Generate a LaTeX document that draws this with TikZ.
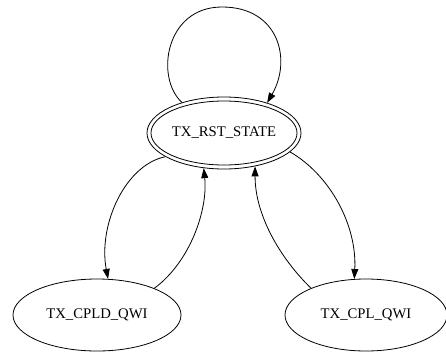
\documentclass[tikz,border=0pt]{standalone}
\usepackage{fontspec}
\setmainfont{Liberation Serif}
\usetikzlibrary{shapes.geometric,arrows.meta}

\tikzset{
  state/.style={ellipse, draw, line width=0.8pt, inner sep=0pt},
  edge/.style={line width=0.8pt, -{Triangle[length=10pt,width=7pt]}},
  statetext/.style={font=\fontsize{14.7}{17}\selectfont}
}

\begin{document}
\begin{tikzpicture}[x=1pt,y=-1pt]
  \useasboundingbox (0,0) rectangle (446,351);

  % reset state: double ellipse
  \node[state, minimum width=146pt, minimum height=64pt] (rstin) at (224,133) {};
  \node[state, minimum width=154pt, minimum height=72pt,
        label={[statetext]center:TX\_RST\_STATE}] (rst) at (224,133) {};

  % the two other states
  \node[state, minimum width=168pt, minimum height=72pt,
        label={[statetext]center:TX\_CPLD\_QWI}] (cpld) at (97,315) {};
  \node[state, minimum width=162pt, minimum height=72pt,
        label={[statetext]center:TX\_CPL\_QWI}] (cpl) at (366,315) {};

  % self loop on the reset state
  \draw[edge] (rst.144) .. controls (155,78) and (165,7) .. (222,7)
                        .. controls (279,7) and (292,60) .. (rst.35);

  % reset <-> TX_CPLD_QWI
  \draw[edge] (rst.202) .. controls (125,165) and (98,225) .. (cpld.73);
  \draw[edge] (cpld.25) .. controls (190,262) and (208,210) .. (rst.240);

  % reset <-> TX_CPL_QWI
  \draw[edge] (cpl.154) .. controls (280,258) and (255,215) .. (rst.313);
  \draw[edge] (rst.344) .. controls (330,175) and (357,225) .. (cpl.108);
\end{tikzpicture}
\end{document}
